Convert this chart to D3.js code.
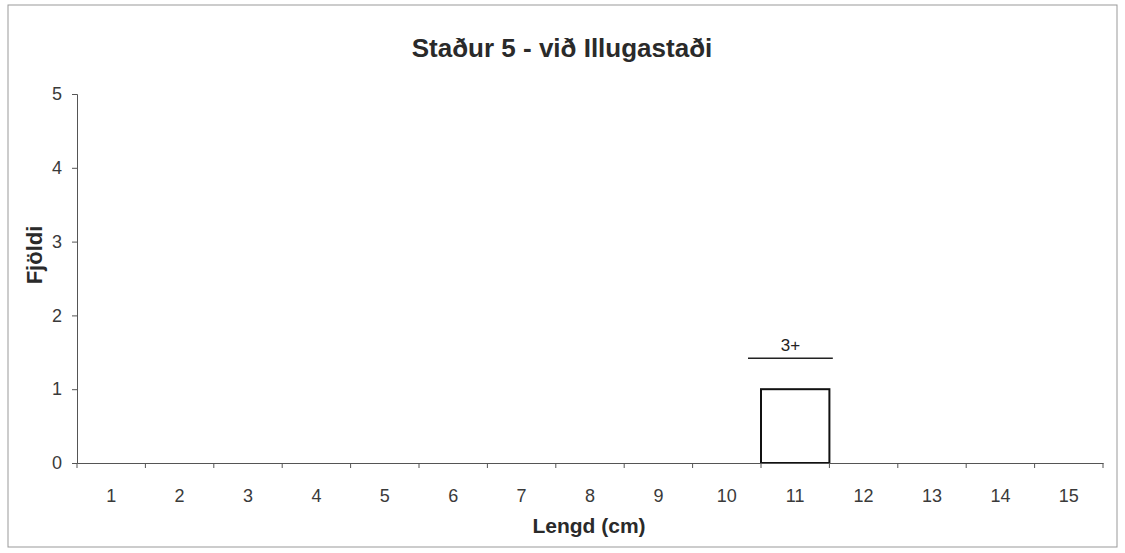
<!DOCTYPE html>
<html><head><meta charset="utf-8">
<script src="https://cdn.jsdelivr.net/npm/d3@7"></script>
<style>body{margin:0;background:#fff;}svg{display:block;font-family:"Liberation Sans",Arial,sans-serif;}</style>
</head><body>
<svg id="c" width="1125" height="553"></svg>
<script>
const categories = ["1","2","3","4","5","6","7","8","9","10","11","12","13","14","15"];
const values = [0,0,0,0,0,0,0,0,0,0,1,0,0,0,0];
const yTicks = [0,1,2,3,4,5];
const title = "Staður 5 - við Illugastaði";
const xTitle = "Lengd (cm)";
const yTitle = "Fjöldi";
const annotations = [{from:"10", to:"12", value:1.42, label:"3+"}];

const svg = d3.select("#c");
const m = {left:77, right:1103, top:94, bottom:463};
const x = d3.scaleBand().domain(categories).range([m.left, m.right]).padding(0);
const y = d3.scaleLinear().domain([0,5]).range([m.bottom, m.top]);
const FF = "Liberation Sans, Arial, sans-serif";

svg.append("rect").attr("x",8).attr("y",5).attr("width",1109).attr("height",542)
  .attr("fill","#fff").attr("stroke","#999").attr("stroke-width",1);

svg.append("text").attr("x",562).attr("y",57).attr("text-anchor","middle")
  .attr("font-size",26).attr("font-weight","bold").attr("fill","#2a2a2a").text(title);

// bars
svg.selectAll("rect.bar").data(categories.map((c,i)=>({c,v:values[i]})).filter(d=>d.v>0))
  .enter().append("rect").attr("class","bar")
  .attr("x",d=>x(d.c)).attr("y",d=>y(d.v)).attr("width",x.bandwidth()).attr("height",d=>y(0)-y(d.v))
  .attr("fill","#fff").attr("stroke","#111").attr("stroke-width",2);

// y axis
const ya = svg.append("g").attr("transform",`translate(${m.left},0)`)
  .call(d3.axisLeft(y).tickValues(yTicks).tickSize(5).tickPadding(10).tickFormat(d3.format("d")));
ya.attr("font-size",18).attr("font-family",FF);
ya.select(".domain").attr("stroke","#555");
ya.selectAll(".tick line").attr("stroke","#555");
ya.selectAll("text").attr("fill","#3a3a3a");

// x axis
const xa = svg.append("g").attr("transform",`translate(0,${m.bottom})`)
  .call(d3.axisBottom(x).tickSize(0).tickPadding(26));
xa.attr("font-size",18).attr("font-family",FF);
xa.select(".domain").attr("stroke","#555");
xa.selectAll("text").attr("fill","#3a3a3a");
// boundary ticks
const bounds = categories.map(c=>x(c)).concat([x(categories[categories.length-1])+x.bandwidth()]);
svg.append("g").selectAll("line").data(bounds).enter().append("line")
  .attr("x1",d=>d).attr("x2",d=>d).attr("y1",m.bottom).attr("y2",m.bottom+5).attr("stroke","#555");

// annotations
annotations.forEach(a=>{
  const x1 = x(a.from)+x.bandwidth()*0.81, x2 = x(a.to)+x.bandwidth()*0.05;
  svg.append("line").attr("x1",x1).attr("x2",x2).attr("y1",y(a.value)).attr("y2",y(a.value))
    .attr("stroke","#222").attr("stroke-width",1.5);
  svg.append("text").attr("x",(x1+x2)/2).attr("y",y(a.value)-7).attr("text-anchor","middle")
    .attr("font-size",17).attr("font-family",FF).attr("fill","#222").text(a.label);
});

svg.append("text").attr("x",589).attr("y",533).attr("text-anchor","middle")
  .attr("font-size",21).attr("font-weight","bold").attr("fill","#2a2a2a").text(xTitle);
svg.append("text").attr("transform",`translate(42,255) rotate(-90)`).attr("text-anchor","middle")
  .attr("font-size",22).attr("font-weight","bold").attr("fill","#2a2a2a").text(yTitle);
</script>
</body></html>
